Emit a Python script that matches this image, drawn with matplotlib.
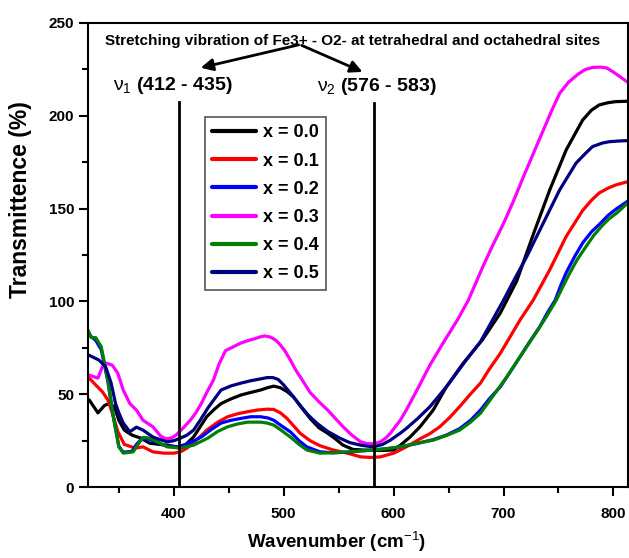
import matplotlib.pyplot as plt

plt.rcParams['font.family'] = ['Liberation Sans', 'DejaVu Sans']
plt.rcParams['mathtext.fontset'] = 'custom'
plt.rcParams['mathtext.rm'] = 'Liberation Sans'
plt.rcParams['mathtext.it'] = 'Liberation Sans'

# Spectra: wavenumber (cm-1) and transmittance (%)
x00_wn = [323, 331, 337, 341, 346, 350, 355, 362, 370, 378, 387, 394, 403, 411, 418, 424, 430,
          437, 443, 452, 461, 470, 479, 485, 491, 497, 503, 509, 516, 524, 532, 540, 547,
          554, 563, 572, 582, 591, 600, 606, 615, 624, 636, 648, 663, 681, 697, 712, 727,
          742, 757, 772, 780, 787, 795, 802, 813]
x00_t = [47, 40, 44, 45, 43.3, 36, 30.7, 28, 26.4, 23.7, 23, 22.6, 21.7, 23, 27, 32.5, 38,
         42, 45, 47.5, 49.6, 51, 52.3, 53.5, 54.4, 53.5, 51.5, 48.5, 43, 37, 32, 29, 26,
         22.6, 20.3, 20, 19.8, 19.8, 20, 22.5, 27, 32.5, 41.5, 54, 66.5, 79.5, 93.7, 111, 136,
         160, 181.6, 197.7, 203, 205.8, 207, 207.6, 207.8]

x01_wn = [323, 329, 335, 340, 344, 349, 355, 365, 372, 381, 391, 400, 406, 412, 420, 430, 440,
          449, 458, 467, 476, 485, 491, 497, 503, 509, 515, 524, 533, 545, 558, 570, 579,
          588, 600, 606, 614, 624, 633, 642, 651, 660, 669, 679, 687, 697, 706, 715, 727,
          742, 757, 772, 780, 787, 795, 802, 813]
x01_t = [58.7, 55, 51.4, 47, 40, 30, 23, 21, 21.7, 19, 18.3, 18.3, 19, 21, 25, 30.7, 35,
         37.9, 39.5, 40.6, 41.5, 42, 41.8, 40, 37, 33, 29, 25, 22.3, 20, 18.3, 16.3, 16,
         16.3, 18.3, 20, 22.5, 26, 28.8, 32.5, 37.5, 43.3, 49.5, 56, 63.5, 72, 81, 90, 100.7,
         117, 135, 149, 154.5, 158.4, 161, 162.7, 164.5]

x02_wn = [323, 329, 334, 340, 345, 350, 354, 362, 366, 370, 377, 385, 394, 406, 415, 425, 434,
          443, 452, 461, 470, 479, 486, 491, 498, 506, 514, 521, 533, 545, 558, 570, 582,
          595, 606, 620, 636, 648, 660, 670, 679, 687, 697, 706, 715, 724, 733, 740, 747,
          752, 757, 765, 772, 780, 788, 795, 803, 813]
x02_t = [82, 79, 74, 57, 38, 22, 18.8, 19.3, 23, 25.5, 26, 24, 22, 21.7, 24, 27, 31,
         34.5, 36, 37, 37.9, 37.9, 37.2, 36, 33, 29.8, 25, 21.7, 19, 18.5, 18.8, 19.5, 20,
         20.8, 21.7, 23.3, 25.6, 28, 31.5, 36, 41.5, 47.5, 54, 62, 70.2, 78.5, 86.4, 94, 100.7,
         108.5, 115.5, 124.5, 131.5, 137.5, 142, 146.3, 150, 154]

x03_wn = [323, 331, 335, 338, 344, 349, 354, 360, 366, 372, 381, 388, 393, 398, 402, 408, 415,
          420, 425, 430, 436, 441, 447, 454, 461, 468, 474, 479, 483, 488, 493, 497, 501,
          506, 511, 515, 524, 532, 540, 547, 554, 562, 570, 576, 582, 588, 593, 597, 606,
          612, 618, 625, 633, 645, 658, 668, 681, 690, 700, 709, 718, 727, 736, 744, 751,
          759, 767, 774, 781, 788, 794, 800, 806, 813]
x03_t = [60.3, 58.7, 64.8, 66.8, 65.7, 61.4, 52.3, 45, 41.5, 36, 32.5, 27.5, 26, 26.5, 28, 31.5, 36,
         40, 45, 51, 57.6, 66, 73.5, 75.5, 77.6, 79, 80, 81, 81.4, 80.8, 79, 76.5, 73.5,
         68.5, 63, 59.4, 51, 46, 41.5, 37, 32.5, 28, 24.4, 23.4, 23.4, 24.4, 26.5, 29, 36,
         42, 48.7, 56.5, 65.7, 77.6, 90, 100.7, 118.5, 130, 142, 154, 167, 179.5, 192, 203, 212,
         218, 222, 224.8, 226, 226.2, 225.7, 223.5, 221, 218]

x04_wn = [322, 325, 329, 334, 340, 345, 350, 354, 363, 369, 372, 378, 385, 394, 406, 418, 431,
          440, 449, 458, 467, 479, 485, 491, 498, 506, 514, 521, 533, 545, 558, 570, 582,
          595, 606, 620, 636, 648, 660, 670, 679, 690, 703, 712, 721, 730, 739, 748, 754,
          760, 767, 775, 782, 790, 796, 803, 813]
x04_t = [84.6, 80.5, 80.5, 75.6, 57.6, 37.9, 21.7, 18.3, 19, 24.4, 26.8, 26.4, 24.4, 21.7, 21, 22.6, 26.4,
         30, 32.5, 34, 35, 35, 34.5, 33.4, 30.5, 27, 23, 20, 18.3, 18.5, 19, 19.5, 20,
         20.8, 21.7, 23.5, 25.3, 27.8, 30.7, 35, 39.8, 48.7, 59.4, 67.5, 75.6, 83.5, 91.8, 100.7, 108,
         115, 122.5, 129.5, 135.5, 141, 144.5, 147.6, 153]

x05_wn = [323, 332, 338, 343, 347, 350, 354, 360, 366, 372, 381, 388, 394, 400, 406, 412, 418,
          424, 431, 437, 443, 452, 461, 470, 479, 485, 490, 495, 500, 507, 515, 522, 530,
          540, 551, 560, 570, 577, 582, 590, 597, 606, 612, 622, 633, 648, 666, 679, 690,
          700, 710, 721, 736, 751, 766, 775, 781, 790, 796, 805, 813]
x05_t = [71, 68.4, 64.8, 56, 45, 40, 34.5, 29.8, 32.3, 30.7, 27, 25.5, 24.4, 25, 26.4, 28, 30.7,
         36, 42.6, 47.5, 52.3, 54.5, 56, 57.3, 58.3, 59, 59, 58, 55, 50, 44, 39, 34.5,
         30, 26.4, 24, 22.6, 22, 21.7, 23, 25.3, 29, 31.8, 37, 43.3, 54, 68.4, 78.3, 90,
         100.7, 112, 124, 142, 160, 174.5, 180, 183.4, 185.3, 186, 186.4, 186.6]

series = [
    ('x = 0.0', x00_wn, x00_t, 'black'),
    ('x = 0.1', x01_wn, x01_t, '#ff0000'),
    ('x = 0.2', x02_wn, x02_t, '#0000ff'),
    ('x = 0.3', x03_wn, x03_t, '#ff00ff'),
    ('x = 0.4', x04_wn, x04_t, '#008000'),
    ('x = 0.5', x05_wn, x05_t, '#000080'),
]

nu1 = 405
nu2 = 582

fig = plt.figure(figsize=(6.29, 5.58), dpi=100)
ax = fig.add_axes([0.14, 0.127, 0.858, 0.832])

for label, wn, t, col in series:
    ax.plot(wn, t, color=col, lw=2.3, label=label,
            solid_joinstyle='round', solid_capstyle='round')

ax.plot([nu1, nu1], [0, 207.5], color='black', lw=2)
ax.plot([nu2, nu2], [0, 207], color='black', lw=2)

ax.text(563, 240, 'Stretching vibration of Fe3+ - O2- at tetrahedral and octahedral sites',
        ha='center', va='center', fontsize=11, fontweight='bold')
ax.annotate('', xy=(422, 225.5), xytext=(516, 238.5),
            arrowprops=dict(arrowstyle='-|>', color='black', lw=2, mutation_scale=18))
ax.annotate('', xy=(574, 223), xytext=(514, 238.5),
            arrowprops=dict(arrowstyle='-|>', color='black', lw=2, mutation_scale=18))
ax.text(345, 216.5, r'$\nu_1$ (412 - 435)', ha='left', va='center',
        fontsize=14, fontweight='bold')
ax.text(530, 216, r'$\nu_2$ (576 - 583)', ha='left', va='center',
        fontsize=14, fontweight='bold')

ax.set_xlim(322, 813)
ax.set_ylim(0, 250)
ax.set_xticks([400, 500, 600, 700, 800])
ax.set_xticks([350, 450, 550, 650, 750], minor=True)
ax.set_yticks([0, 50, 100, 150, 200, 250])
ax.set_yticks([25, 75, 125, 175, 225], minor=True)
ax.tick_params(which='major', direction='out', length=6.5, width=1.5, labelsize=11)
ax.tick_params(which='minor', direction='out', length=4, width=1.5)
ax.tick_params(axis='x', which='major', pad=8)
for lab in ax.get_xticklabels() + ax.get_yticklabels():
    lab.set_fontweight('bold')
for sp in ax.spines.values():
    sp.set_linewidth(1.5)

ax.set_xlabel(r'Wavenumber (cm$^{-1}$)', fontsize=13.5, fontweight='bold')
ax.xaxis.set_label_coords(0.46, -0.093)
ax.set_ylabel('Transmittence (%)', fontsize=16.5, fontweight='bold')
ax.yaxis.set_label_coords(-0.104, 0.619)

leg = ax.legend(loc='upper left', bbox_to_anchor=(0.217, 0.797), borderaxespad=0,
                fancybox=False, edgecolor='#555555', framealpha=1, handlelength=2.4,
                handletextpad=0.4, borderpad=0.4, labelspacing=0.62,
                prop={'weight': 'bold', 'size': 13})
leg.get_frame().set_linewidth(1.2)
for line in leg.get_lines():
    line.set_linewidth(3)

fig.savefig('out.png', dpi=100)
